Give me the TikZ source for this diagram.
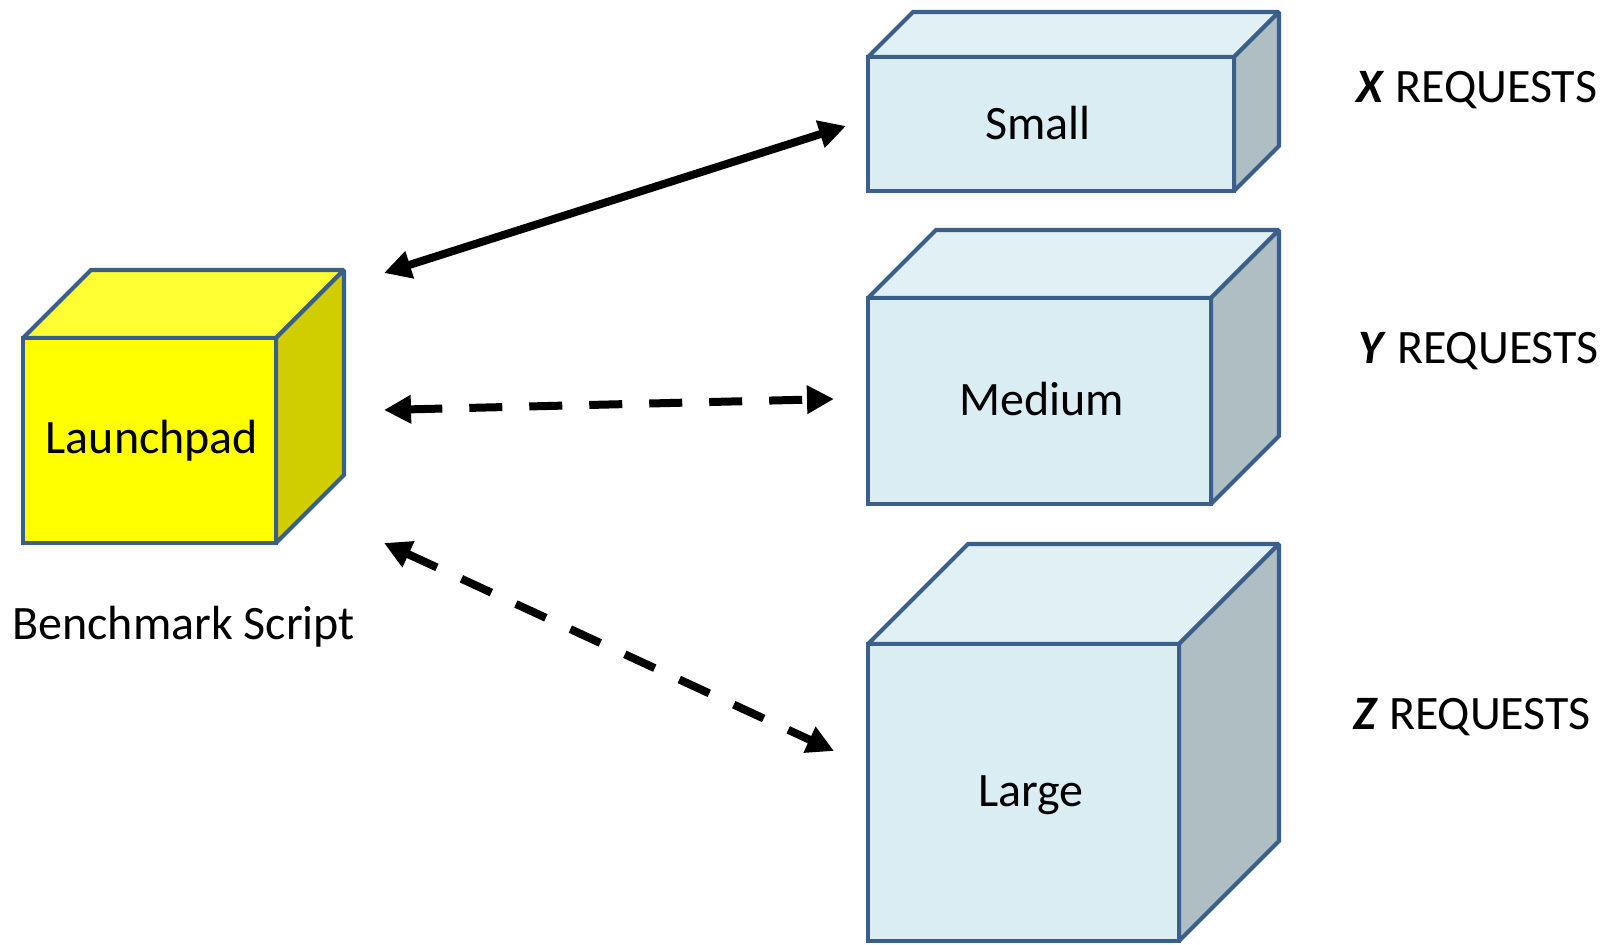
\documentclass[tikz,border=0pt]{standalone}
\usepackage{fontspec}
\setmainfont{Carlito}
\usetikzlibrary{arrows.meta}
\definecolor{edgeblue}{HTML}{3A5F8B}
\definecolor{bfront}{HTML}{DAEDF3}
\definecolor{btop}{HTML}{E1F0F5}
\definecolor{bside}{HTML}{AFBEC3}
\definecolor{yfront}{HTML}{FFFF00}
\definecolor{ytop}{HTML}{FFFF33}
\definecolor{yside}{HTML}{D0CE00}
\newcommand\drawcube[8]{%
  \path[cubeface,fill=#7] (#1,#2) -- ++(#5,-#5) -- ++(#3,0) -- ++(-#5,#5) -- cycle;
  \path[cubeface,fill=#8] (#1+#3,#2) -- ++(#5,-#5) -- ++(0,#4) -- ++(-#5,#5) -- cycle;
  \path[cubeface,fill=#6] (#1,#2) rectangle ++(#3,#4);
}
\begin{document}
\begin{tikzpicture}[x=0.5pt,y=-0.5pt,
  cubeface/.style={draw=edgeblue,line width=2.1pt,line join=miter,miter limit=2},
  lbl/.style={inner sep=0pt,font=\fontsize{24}{29}\selectfont},
  conn/.style={line width=4pt,{Triangle[length=13.5pt,width=13.5pt]}-{Triangle[length=13.5pt,width=13.5pt]}},
  dashconn/.style={conn,dash pattern=on 16.5pt off 13.5pt}]
\useasboundingbox (0,0) rectangle (1614,945);
% cubes
\drawcube{23}{338}{253}{205}{68}{yfront}{ytop}{yside}
\drawcube{868}{57}{366}{134}{45}{bfront}{btop}{bside}
\drawcube{868}{298}{343}{206}{68}{bfront}{btop}{bside}
\drawcube{868}{644}{311}{297}{100}{bfront}{btop}{bside}
% labels
\node[lbl,anchor=base] (launch) at (152,454) {Launchpad};
\node[lbl,anchor=base west] (bench) at (12,640) {Benchmark Script};
\node[lbl,anchor=base] (small) at (1038,140) {Small};
\node[lbl,anchor=base] (medium) at (1042,416) {Medium};
\node[lbl,anchor=base] (large) at (1031,807) {Large};
\node[lbl,anchor=base west] (xreq) at (1356,103) {\textbf{\textit{X}} REQUESTS};
\node[lbl,anchor=base west] (yreq) at (1358,364) {\textbf{\textit{Y}} REQUESTS};
\node[lbl,anchor=base west] (zreq) at (1353,730) {\textbf{\textit{Z}} REQUESTS};
% connector ends
\coordinate (lpA) at (384,273);
\coordinate (lpB) at (384,410);
\coordinate (lpC) at (384,543);
\coordinate (smA) at (846,126);
\coordinate (meA) at (834,399);
\coordinate (laA) at (834,751);
\draw[conn] (lpA) -- (smA);
\draw[dashconn] (lpB) -- (meA);
\draw[dashconn] (lpC) -- (laA);
\end{tikzpicture}
\end{document}
